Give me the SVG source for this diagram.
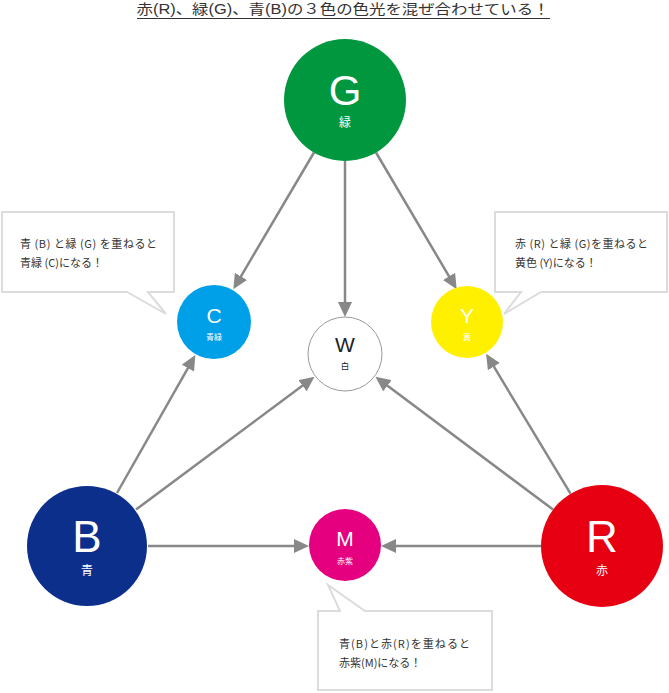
<svg xmlns="http://www.w3.org/2000/svg" width="669" height="693" viewBox="0 0 669 693">
<defs>
<style>
.t{font-family:"Liberation Sans","Noto Sans CJK JP",sans-serif;fill:#333;}
.cj{font-family:"Noto Sans CJK JP",sans-serif;fill:#333;font-size:11px;}
.lt{font-family:"Liberation Sans","Noto Sans CJK JP",sans-serif;fill:#fff;text-anchor:middle;}
.sub{font-family:"Noto Sans CJK JP",sans-serif;fill:#fff;text-anchor:middle;}
.box{fill:#fff;stroke:#dcdcdc;stroke-width:2;}
.arr{stroke:#888;stroke-width:2.5;fill:none;marker-end:url(#ah);}
</style>
<marker id="ah" markerUnits="userSpaceOnUse" markerWidth="15" markerHeight="14" refX="4" refY="7" orient="auto">
<path d="M0,0 L15,7 L0,14 z" fill="#888"/>
</marker>
</defs>
<rect width="669" height="693" fill="#fff"/>
<g id="title">
<text class="t" x="343" y="14" font-size="14" text-anchor="middle" textLength="413" lengthAdjust="spacingAndGlyphs">赤(R)、緑(G)、青(B)の３色の色光を混ぜ合わせている！</text>
<line x1="137" y1="18.5" x2="550" y2="18.5" stroke="#333" stroke-width="1"/>
</g>
<g id="connectors">
<line class="arr" x1="314" y1="152.5" x2="238.9" y2="279.8"/>
<line class="arr" x1="345" y1="161" x2="345" y2="306"/>
<line class="arr" x1="376" y1="152.5" x2="451.1" y2="279.8"/>
<line class="arr" x1="117" y1="493" x2="189.9" y2="364.6"/>
<line class="arr" x1="136" y1="509.6" x2="305.7" y2="383.3"/>
<line class="arr" x1="148" y1="546" x2="298" y2="546"/>
<line class="arr" x1="541" y1="546" x2="392" y2="546"/>
<line class="arr" x1="553" y1="509.5" x2="384.2" y2="383.3"/>
<line class="arr" x1="570.5" y1="493.7" x2="491.8" y2="363.2"/>
</g>
<g id="callout-C">
<path class="box" d="M2,212 H174 V292 H148 L166,314 L127,292 H2 Z"/>
<text class="cj" x="20" y="248" textLength="137" lengthAdjust="spacing">青 (B) と緑 (G) を重ねると</text>
<text class="cj" x="20" y="267">青緑 (C)になる！</text>
</g>
<g id="callout-Y">
<path class="box" d="M495,212 H667 V292 H541 L504,314 L521,292 H495 Z"/>
<text class="cj" x="515" y="248" textLength="133" lengthAdjust="spacing">赤 (R) と緑 (G)を重ねると</text>
<text class="cj" x="515" y="267">黄色 (Y)になる！</text>
</g>
<g id="callout-M">
<path class="box" d="M318,611 H340 L328,585 L365,611 H492 V690 H318 Z"/>
<text class="cj" x="339" y="648" textLength="131" lengthAdjust="spacing">青(B)と赤(R)を重ねると</text>
<text class="cj" x="339" y="667">赤紫(M)になる！</text>
</g>
<g id="node-G">
<circle cx="345" cy="100" r="61" fill="#00973f"/>
<text class="lt" x="345" y="105" font-size="42">G</text>
<text class="sub" x="345" y="127" font-size="12">緑</text>
</g>
<g id="node-C">
<circle cx="214" cy="322" r="37" fill="#00a0e9"/>
<text class="lt" x="214" y="323" font-size="21">C</text>
<text class="sub" x="214" y="340" font-size="8">青緑</text>
</g>
<g id="node-W">
<circle cx="345" cy="354" r="37" fill="#fff" stroke="#999" stroke-width="1"/>
<text class="lt" x="345" y="352" font-size="21" style="fill:#222">W</text>
<text class="sub" x="345" y="369" font-size="8.5" style="fill:#222">白</text>
</g>
<g id="node-Y">
<circle cx="467" cy="322" r="36" fill="#fff000"/>
<text class="lt" x="467" y="323" font-size="21">Y</text>
<text class="sub" x="467" y="340" font-size="8">黄</text>
</g>
<g id="node-M">
<circle cx="345" cy="545" r="36" fill="#e4007f"/>
<text class="lt" x="345" y="546" font-size="21">M</text>
<text class="sub" x="345" y="564" font-size="8">赤紫</text>
</g>
<g id="node-B">
<circle cx="87" cy="546" r="60" fill="#0c2f8b"/>
<text class="lt" x="87" y="552" font-size="44">B</text>
<text class="sub" x="87" y="575" font-size="12">青</text>
</g>
<g id="node-R">
<circle cx="602" cy="546" r="61" fill="#e60012"/>
<text class="lt" x="602" y="552" font-size="44">R</text>
<text class="sub" x="602" y="575" font-size="12">赤</text>
</g>
</svg>
